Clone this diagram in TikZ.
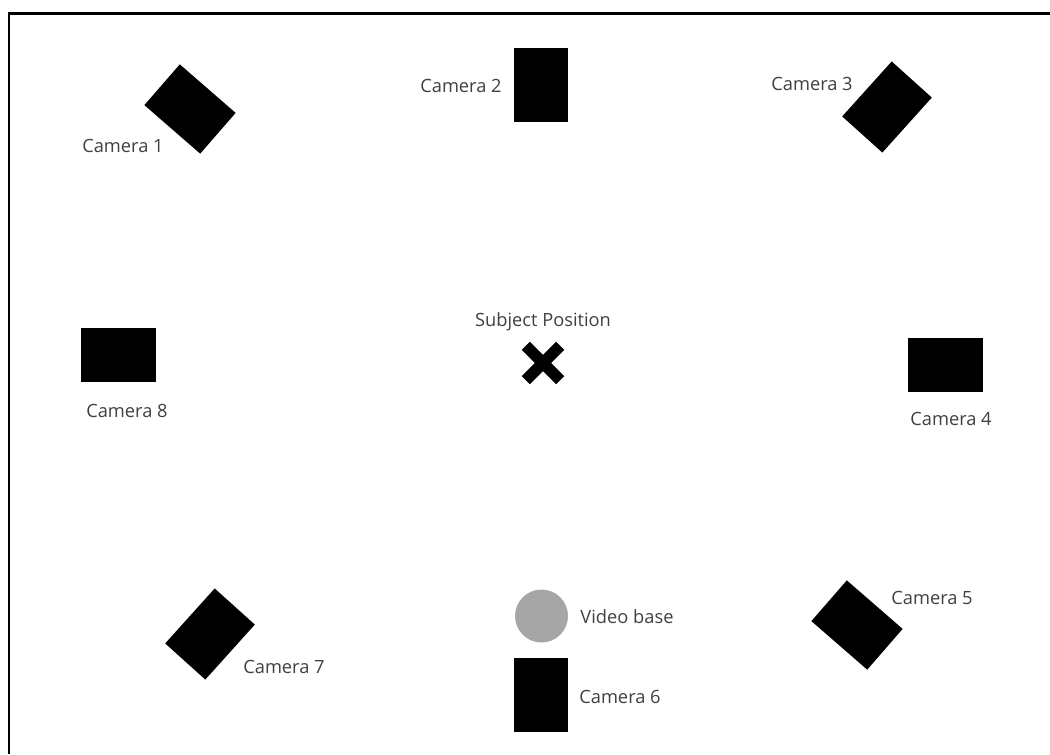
\documentclass[tikz,border=0pt]{standalone}
\usepackage{fontspec}
\setmainfont{Open Sans}
\usetikzlibrary{shapes.misc}
\definecolor{camtext}{RGB}{64,64,64}
\definecolor{basegray}{RGB}{166,166,166}

\begin{document}
\begin{tikzpicture}[x=0.02cm, y=-0.02cm,
      cam/.style={rectangle, fill=black, inner sep=0pt, minimum width=1.08cm, minimum height=1.48cm},
      camwide/.style={cam, minimum width=1.5cm, minimum height=1.08cm},
      lbl/.style={inner sep=0pt, text=camtext, font=\fontsize{10.4}{12}\selectfont},
      frameline/.style={line width=1.4pt, color=black}
    ]
      \useasboundingbox (0,0) rectangle (1050,754);

      % frame
      \draw[frameline] (9,754) -- (9,13.5) -- (1050,13.5);

      % top row
      \node[cam, rotate=49] (cam1) at (190,109) {};
      \node[lbl] (cam1lbl) at (123,146) {Camera 1};
      \node[cam] (cam2) at (540.5,85) {};
      \node[lbl] (cam2lbl) at (461,86) {Camera 2};
      \node[cam, rotate=-42] (cam3) at (887,107) {};
      \node[lbl] (cam3lbl) at (812,84) {Camera 3};

      % middle row
      \node[camwide] (cam8) at (118.5,355) {};
      \node[lbl] (cam8lbl) at (127,411) {Camera 8};
      \node[camwide] (cam4) at (945.5,364.5) {};
      \node[lbl] (cam4lbl) at (951,419) {Camera 4};

      % subject
      \node[lbl] (subjlbl) at (543,322) {Subject Position};
      \node[cross out, draw=black, line width=6.5pt, minimum size=0.46cm, inner sep=0pt] (subj) at (543,363) {};

      % bottom row
      \node[cam, rotate=-42] (cam7) at (210,634) {};
      \node[lbl] (cam7lbl) at (284,667) {Camera 7};
      \node[circle, fill=basegray, inner sep=0pt, minimum size=1.06cm] (base) at (541.5,616) {};
      \node[lbl] (baselbl) at (627,617) {Video base};
      \node[cam] (cam6) at (540.5,695) {};
      \node[lbl] (cam6lbl) at (620,697) {Camera 6};
      \node[cam, rotate=49] (cam5) at (857,625) {};
      \node[lbl] (cam5lbl) at (932,598) {Camera 5};
    \end{tikzpicture}
\end{document}
